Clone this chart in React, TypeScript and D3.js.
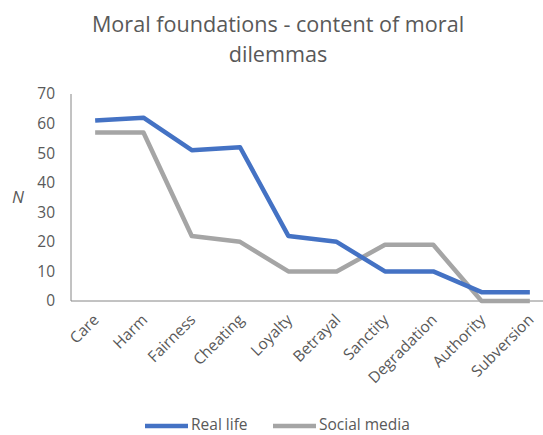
import React from "react";
import * as d3 from "d3";

const categories = ["Care", "Harm", "Fairness", "Cheating", "Loyalty", "Betrayal", "Sanctity", "Degradation", "Authority", "Subversion"];
const realLife = [61, 62, 51, 52, 22, 20, 10, 10, 3, 3];
const socialMedia = [57, 57, 22, 20, 10, 10, 19, 19, 0, 0];
const yTicks = [0, 10, 20, 30, 40, 50, 60, 70];
const seriesNames = ["Real life", "Social media"];
const colors = ["#4472C4", "#A5A5A5"];

const W = 543, H = 435;
const left = 71, right = 554, top = 94, bottom = 301;
const font = "'Open Sans', sans-serif";
const textColor = "#595959";

export default function App() {
  const x = d3.scaleBand<string>().domain(categories).range([left, right]);
  const y = d3.scaleLinear().domain([0, 70]).range([bottom, top]);
  const cx = (c: string) => (x(c) as number) + x.bandwidth() / 2;
  const line = d3.line<number>().x((_, i) => cx(categories[i])).y((v) => y(v));
  const series = [realLife, socialMedia];
  return (
    <svg width={W} height={H} style={{ position: "absolute", left: 0, top: 0, background: "#fff" }} fontFamily={font}>
      <text x={278} y={32} textAnchor="middle" fontSize={21.6} fill={textColor}>Moral foundations - content of moral</text>
      <text x={278} y={62} textAnchor="middle" fontSize={21.6} fill={textColor}>dilemmas</text>
      {yTicks.map((t) => (
        <text key={t} x={55} y={y(t)} dy="0.35em" textAnchor="end" fontSize={15.5} fill={textColor}>{t}</text>
      ))}
      <text x={18} y={y(35)} dy="0.35em" textAnchor="middle" fontSize={17} fontStyle="italic" fill={textColor}>N</text>
      <line x1={left} x2={left} y1={top} y2={bottom} stroke="#868686" strokeWidth={1} />
      <line x1={left} x2={right} y1={bottom} y2={bottom} stroke="#868686" strokeWidth={1} />
      {series.map((s, i) => (
        <path key={i} d={line(s) || ""} fill="none" stroke={colors[i]} strokeWidth={4.5} strokeLinejoin="round" />
      )).reverse()}
      {categories.map((c) => (
        <text key={c} transform={`translate(${cx(c) + 1},${bottom + 16}) rotate(-45)`} textAnchor="end" dy="0.35em" fontSize={15.5} fill={textColor}>{c}</text>
      ))}
      {seriesNames.map((n, i) => {
        const lx = i === 0 ? 145 : 273;
        return (
          <g key={n}>
            <line x1={lx} x2={lx + 43} y1={426} y2={426} stroke={colors[i]} strokeWidth={4.5} />
            <text x={lx + 46} y={430} fontSize={15.5} fill={textColor}>{n}</text>
          </g>
        );
      })}
    </svg>
  );
}
